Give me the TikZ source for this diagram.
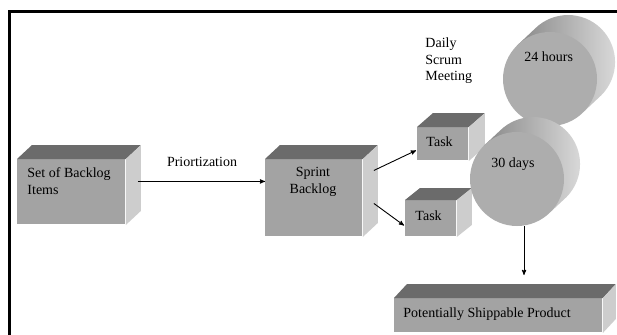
\documentclass[tikz,border=0pt]{standalone}
\usepackage{fontspec}
\setmainfont{Liberation Serif}
\usetikzlibrary{arrows,calc}

\definecolor{frontgray}{HTML}{A3A3A3}
\definecolor{topgray}{HTML}{6B6B6B}
\definecolor{sidegray}{HTML}{CDCDCD}
\definecolor{drumgray}{HTML}{ADADAD}
\definecolor{drumdark}{HTML}{888888}
\definecolor{drumlight}{HTML}{DCDCDC}

% top and right faces of a block, #1 = front node, (#2,#3) = depth
\newcommand\blockfaces[3]{%
  \fill[topgray] (#1.north west) -- ++(#2,#3) -- ($(#1.north east)+(#2,#3)$) -- (#1.north east) -- cycle;
  \fill[sidegray] (#1.north east) -- ++(#2,#3) -- ($(#1.south east)+(#2,#3)$) -- (#1.south east) -- cycle;}
% body of a drum behind its front disc, #1 = centre, (#2,#3) = depth
\newcommand\drumbody[3]{%
  \shade[left color=drumdark,right color=drumlight] ($(#1)+(-33.2,-33.2)$) -- ++(#2,#3)
    arc[start angle=225,end angle=405,radius=47] -- ($(#1)+(33.2,33.2)$) -- cycle;}

\begin{document}
\begin{tikzpicture}[x=1pt,y=-1pt,>=stealth',line width=0.9pt]
  \tikzset{face/.style={fill=frontgray,inner sep=0pt,anchor=north west},
           drum/.style={circle,fill=drumgray,inner sep=0pt,minimum size=94pt},
           lbl/.style={font=\fontsize{14}{16.5}\selectfont,inner sep=0pt,align=left}}
  \useasboundingbox (0,0) rectangle (617,334);
  \clip (0,0) rectangle (617,334);
  \fill[white] (0,0) rectangle (617,334);
  \draw[line width=2.5pt] (9.5,11.5) rectangle (640,360);

  \node[face,minimum width=108pt,minimum height=65pt] (sbi) at (17,159) {};
  \blockfaces{sbi}{15}{-14}
  \node[face,minimum width=97pt,minimum height=77pt] (sb) at (265,159) {};
  \blockfaces{sb}{15}{-14}
  \node[face,minimum width=51pt,minimum height=33pt] (t1) at (417,127) {};
  \blockfaces{t1}{16}{-14}
  \node[face,minimum width=51pt,minimum height=36pt] (t2) at (405,200) {};
  \blockfaces{t2}{15}{-12}
  \node[face,minimum width=208pt,minimum height=34pt] (psp) at (394,298) {};
  \blockfaces{psp}{13}{-14}

  \drumbody{550,79}{18}{-17}
  \node[drum] (h24) at (550,79) {};
  \drumbody{517,179}{16}{-15}
  \node[drum] (d30) at (517,179) {};

  % base anchor of a multi-line label is its last line
  \node[lbl,anchor=base west] (sbit) at (27,194) {Set of Backlog\\Items};
  \node[lbl,anchor=base] (prio) at (202,166) {Priortization};
  \node[lbl,anchor=base,align=center] (sbt) at (313,193) {Sprint\\Backlog};
  \node[lbl,anchor=base west] (t1t) at (426,146) {Task};
  \node[lbl,anchor=base west] (t2t) at (415,220) {Task};
  \node[lbl,anchor=base west] (dsm) at (425,81) {Daily\\Scrum\\Meeting};
  \node[lbl,anchor=base west] (h24t) at (524,62) {24 hours};
  \node[lbl,anchor=base west] (d30t) at (491,167) {30 days};
  \node[lbl,anchor=base west] (pspt) at (403,317) {Potentially Shippable Product};

  \draw[->] ([shift={(12,-10.5)}]sbi.east) -- ([shift={(0,-16.5)}]sb.west);
  \draw[->] ([shift={(11,-27.5)}]sb.east) -- ([shift={(-1,6.5)}]t1.west);
  \draw[->] ([shift={(11,5.5)}]sb.east) -- ([shift={(-1,7)}]t2.west);
  \draw[->] ([xshift=7pt]d30.south) -- ([xshift=7pt,yshift=23pt]d30.south |- psp.north);
\end{tikzpicture}
\end{document}
